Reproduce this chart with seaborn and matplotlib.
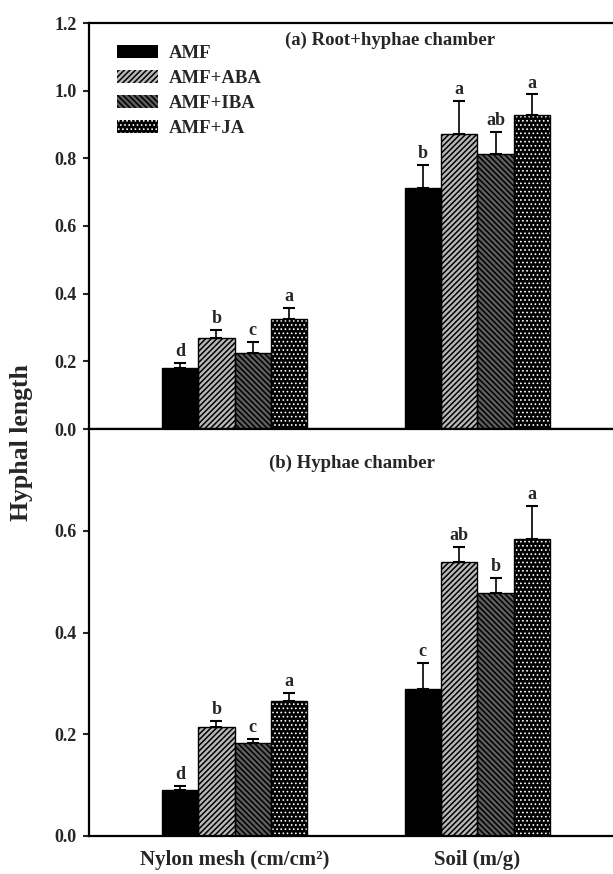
import numpy as np
import pandas as pd
import matplotlib
matplotlib.use("Agg")
import matplotlib.pyplot as plt
import matplotlib.patches as mpatches
import seaborn as sns

# ---------------- data ----------------
sites = ["Nylon mesh (cm/cm²)", "Soil (m/g)"]
treatments = ["AMF", "AMF+ABA", "AMF+IBA", "AMF+JA"]

# (a) Root+hyphae chamber: rows = treatments, cols = sites
a_mean = [[0.180, 0.713],
          [0.270, 0.873],
          [0.224, 0.812],
          [0.325, 0.927]]
a_err = [[0.015, 0.067],
         [0.023, 0.096],
         [0.033, 0.066],
         [0.034, 0.062]]
a_letters = [["d", "b"],
             ["b", "a"],
             ["c", "ab"],
             ["a", "a"]]

# (b) Hyphae chamber
b_mean = [[0.091, 0.289],
          [0.214, 0.538],
          [0.182, 0.478],
          [0.266, 0.583]]
b_err = [[0.007, 0.051],
         [0.013, 0.031],
         [0.009, 0.030],
         [0.016, 0.066]]
b_letters = [["d", "c"],
             ["b", "ab"],
             ["c", "b"],
             ["a", "a"]]

a_ticks = [0.0, 0.2, 0.4, 0.6, 0.8, 1.0, 1.2]
b_ticks = [0.0, 0.2, 0.4, 0.6]

face_colors = ["#000000", "#b8b8b8", "#5e5e5e", "#000000"]
hatch_colors = ["#000000", "#000000", "#000000", "#ffffff"]
hatches = ["", "//////", "\\\\\\\\\\\\", "...."]
hatch_lw = [1.1, 1.1, 1.1, 0.7]

# ---------------- style ----------------
sns.set_theme(style="ticks")
plt.rcParams["font.family"] = ["Liberation Serif", "DejaVu Serif"]
plt.rcParams["font.weight"] = "bold"
plt.rcParams["hatch.linewidth"] = 1.1
plt.rcParams["axes.linewidth"] = 1.6

fig = plt.figure(figsize=(6.13, 8.74), dpi=100)
W, H = 613.0, 874.0
x_left, x_right = 89 / W, 623 / W
y_top, y_mid, y_bot = 1 - 23 / H, 1 - 429 / H, 1 - 836 / H
ax_a = fig.add_axes([x_left, y_mid, x_right - x_left, y_top - y_mid])
ax_b = fig.add_axes([x_left, y_bot, x_right - x_left, y_mid - y_bot])


def set_hlw(patch, lw):
    if hasattr(patch, "set_hatch_linewidth"):
        patch.set_hatch_linewidth(lw)


def make_df(mean):
    rows = []
    for i, t in enumerate(treatments):
        for j, s in enumerate(sites):
            rows.append({"site": s, "treatment": t, "value": mean[i][j]})
    return pd.DataFrame(rows)


def draw_panel(ax, mean, err, letters, ylim, ticks, title, tpos):
    df = make_df(mean)
    sns.barplot(data=df, x="site", y="value", hue="treatment",
                order=sites, hue_order=treatments,
                palette=face_colors, width=0.6, linewidth=0,
                errorbar=None, legend=False, ax=ax, saturation=1)
    for i, cont in enumerate(ax.containers):
        for bar in cont:
            bar.set_hatch(hatches[i])
            bar.set_edgecolor(hatch_colors[i])
            bar.set_linewidth(0)
            set_hlw(bar, hatch_lw[i])
    # outlines
    sns.barplot(data=df, x="site", y="value", hue="treatment",
                order=sites, hue_order=treatments,
                palette=["#000000"] * 4, width=0.6, fill=False,
                linewidth=1.0, errorbar=None, legend=False, ax=ax)
    n = len(treatments)
    for i, cont in enumerate(ax.containers[:n]):
        for j, bar in enumerate(cont):
            xc = bar.get_x() + bar.get_width() / 2
            h = bar.get_height()
            e = err[i][j]
            ax.errorbar([xc], [h], yerr=[[0], [e]], fmt="none",
                        ecolor="black", elinewidth=1.2, capsize=4,
                        capthick=1.5, zorder=5)
            ax.annotate(letters[i][j], (xc, h + e), xytext=(0, 2),
                        textcoords="offset points", ha="center",
                        va="bottom", fontsize=13, fontweight="bold")
    ax.set_xlim(-0.6, 1.6)
    ax.set_ylim(*ylim)
    ax.set_yticks(ticks)
    ax.set_yticklabels([f"{t:.1f}" for t in ticks])
    ax.set_xlabel("")
    ax.set_ylabel("")
    ax.tick_params(axis="y", direction="out", length=4, width=1.5,
                   labelsize=13, pad=5)
    ax.tick_params(axis="x", length=0, labelsize=15, pad=10)
    for lab in ax.get_xticklabels() + ax.get_yticklabels():
        lab.set_fontweight("bold")
    for sp in ["left", "top", "bottom", "right"]:
        ax.spines[sp].set_visible(True)
        ax.spines[sp].set_linewidth(1.6)
        ax.spines[sp].set_color("black")
    ax.text(tpos[0], tpos[1], title, transform=ax.transAxes, ha="center",
            va="center", fontsize=13.5, fontweight="bold")
    ax.set_facecolor("white")


draw_panel(ax_a, a_mean, a_err, a_letters, (0, 1.2), a_ticks,
           "(a) Root+hyphae chamber", (0.564, 0.958))
draw_panel(ax_b, b_mean, b_err, b_letters, (0, 0.8), b_ticks,
           "(b) Hyphae chamber", (0.493, 0.916))
ax_a.set_xticklabels([])

# legend
handles = []
for i, t in enumerate(treatments):
    handles.append(mpatches.Patch(facecolor=face_colors[i],
                                  edgecolor=hatch_colors[i],
                                  hatch=hatches[i], linewidth=0, label=t))
leg = ax_a.legend(handles=handles, loc="upper left",
                  bbox_to_anchor=(0.052, 0.945), frameon=False,
                  fontsize=13.5, handlelength=2.2, handleheight=0.65,
                  labelspacing=0.42, handletextpad=0.55, borderaxespad=0,
                  borderpad=0)
for txt in leg.get_texts():
    txt.set_fontweight("bold")
for i, p in enumerate(leg.get_patches()):
    p.set_linewidth(0)
    set_hlw(p, hatch_lw[i])

fig.text(22 / W, 0.494, "Hyphal length", rotation=90, ha="center",
         va="center", fontsize=18.5, fontweight="bold")

fig.savefig("out.png", dpi=100, facecolor="white")
